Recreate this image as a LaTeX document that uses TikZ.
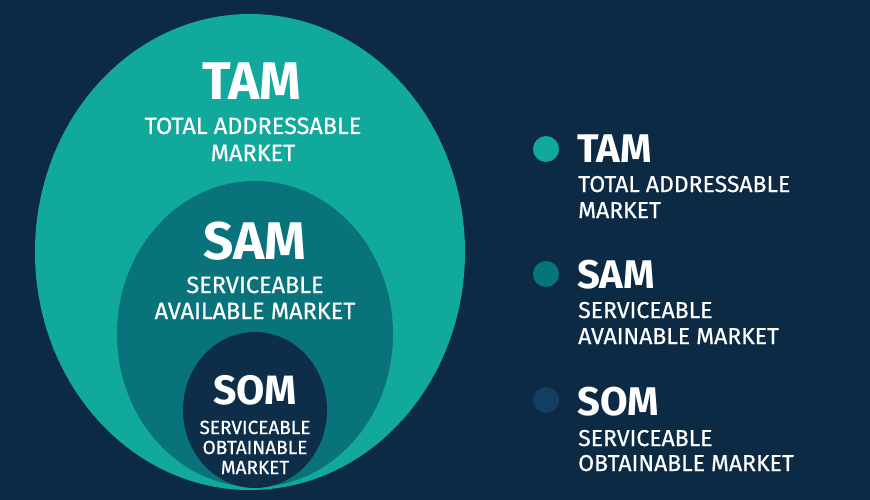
\documentclass[tikz,border=0pt]{standalone}
\usepackage{fontspec}
\setmainfont{Fira Sans}
\newfontfamily\medfont[FakeBold=0.6]{Fira Sans}
\begin{document}
\begin{tikzpicture}[x=1pt,y=-1pt,
  title/.style={text=white,font=\bfseries\fontsize{#1}{#1}\selectfont,inner sep=0pt},
  sub/.style={text=white,font=\medfont\fontsize{#1}{#1}\selectfont,inner sep=0pt},
  dot/.style={circle,minimum size=26pt,inner sep=0pt}]
\definecolor{bgnavy}{HTML}{0C2A44}
\definecolor{tamteal}{HTML}{10A99B}
\definecolor{samteal}{HTML}{08737A}
\definecolor{somnavy}{HTML}{0E2D49}
\definecolor{somdot}{HTML}{123F61}
\fill[bgnavy] (0,0) rectangle (870,500);
\useasboundingbox (0,0) rectangle (870,500);
% ellipses
\fill[tamteal] (250,252) ellipse [x radius=215, y radius=238];
\fill[samteal] (255,334) ellipse [x radius=138, y radius=153];
\fill[somnavy] (255,410) ellipse [x radius=72, y radius=78];
% circle texts
\node[title=53,anchor=base] (tamt) at (252,100) {TAM};
\node[sub=23.5,anchor=base] (tams1) at (253,134) {TOTAL ADDRESSABLE};
\node[sub=23.5,anchor=base] (tams2) at (253,161) {MARKET};
\node[title=53,anchor=base] (samt) at (255,259) {SAM};
\node[sub=23.5,anchor=base] (sams1) at (255,293) {SERVICEABLE};
\node[sub=23.5,anchor=base] (sams2) at (255,319) {AVAILABLE MARKET};
\node[title=41,anchor=base] (somt) at (255,404) {SOM};
\node[sub=19,anchor=base] (soms1) at (255,434) {SERVICEABLE};
\node[sub=19,anchor=base] (soms2) at (255,454) {OBTAINABLE};
\node[sub=19,anchor=base] (soms3) at (255,474) {MARKET};
% legend
\node[dot,fill=tamteal] (d1) at (546,149) {};
\node[dot,fill=samteal] (d2) at (546,274) {};
\node[dot,fill=somdot] (d3) at (546,400) {};
\node[title=40,anchor=base west] (l1t) at (577,162) {TAM};
\node[sub=23,anchor=base west] (l1a) at (578,192) {TOTAL ADDRESSABLE};
\node[sub=23,anchor=base west] (l1b) at (578,218) {MARKET};
\node[title=40,anchor=base west] (l2t) at (577,288) {SAM};
\node[sub=23,anchor=base west] (l2a) at (578,318) {SERVICEABLE};
\node[sub=23,anchor=base west] (l2b) at (578,344) {AVAINABLE MARKET};
\node[title=40,anchor=base west] (l3t) at (577,415) {SOM};
\node[sub=23,anchor=base west] (l3a) at (578,446) {SERVICEABLE};
\node[sub=23,anchor=base west] (l3b) at (578,471) {OBTAINABLE MARKET};
\end{tikzpicture}
\end{document}
